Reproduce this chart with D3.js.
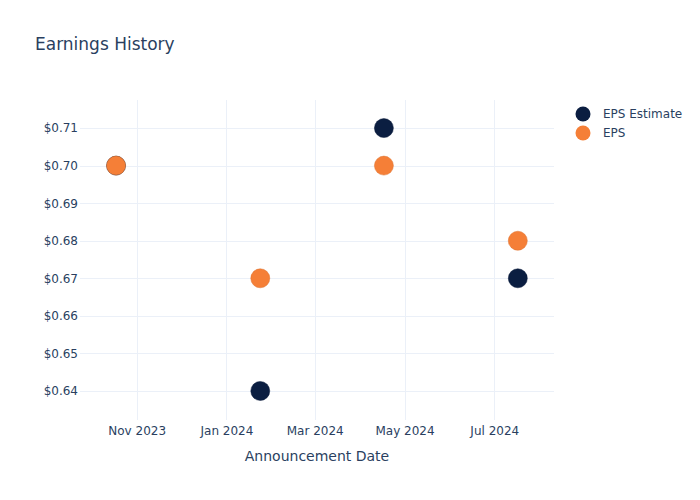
<!DOCTYPE html>
<html>
<head>
<meta charset="utf-8">
<script src="https://cdn.jsdelivr.net/npm/d3@7"></script>
<style>
  html, body { margin: 0; padding: 0; background: #fff; }
  svg { display: block; font-family: "DejaVu Sans", Verdana, sans-serif; }
</style>
</head>
<body>
<svg id="chart" width="700" height="500"></svg>
<script>
// ---- data ----
const dates = ["2023-10-18", "2024-01-24", "2024-04-17", "2024-07-17"];
const epsEstimate = [0.70, 0.64, 0.71, 0.67];
const eps = [0.70, 0.67, 0.70, 0.68];
const seriesNames = ["EPS Estimate", "EPS"];
const seriesColors = ["#0b1e41", "#f57f37"];
const yTickValues = [0.64, 0.65, 0.66, 0.67, 0.68, 0.69, 0.70, 0.71];
const xTickDates = ["2023-11-01", "2024-01-01", "2024-03-01", "2024-05-01", "2024-07-01"];
const xRange = ["2023-09-23T12:00", "2024-08-10T14:00"];
const yRange = [0.63227, 0.71747];

// ---- layout ----
const W = 700, H = 500;
const m = { l: 80, r: 146, t: 100, b: 80 };
const pw = W - m.l - m.r, ph = H - m.t - m.b;
const textColor = "#2a3f5f";
const gridColor = "#ebf0f8";

const parse = d3.isoParse;
const svg = d3.select("#chart");

const x = d3.scaleTime().domain(xRange.map(parse)).range([m.l, m.l + pw]);
const y = d3.scaleLinear().domain(yRange).range([m.t + ph, m.t]);

// title
svg.append("text").attr("x", 35).attr("y", 50)
  .attr("fill", textColor).attr("font-size", 17).text("Earnings History");

// grid
const g = svg.append("g");
g.selectAll(".vg").data(xTickDates.map(parse)).join("line")
  .attr("x1", d => Math.round(x(d)) + 0.5).attr("x2", d => Math.round(x(d)) + 0.5)
  .attr("y1", m.t).attr("y2", m.t + ph)
  .attr("stroke", gridColor).attr("stroke-width", 1);
g.selectAll(".hg").data(yTickValues).join("line")
  .attr("x1", m.l).attr("x2", m.l + pw)
  .attr("y1", d => Math.round(y(d)) + 0.5).attr("y2", d => Math.round(y(d)) + 0.5)
  .attr("stroke", gridColor).attr("stroke-width", 1);

// axes
const yAxis = d3.axisLeft(y).tickValues(yTickValues).tickFormat(d3.format("$.2f")).tickSize(0).tickPadding(2);
const ya = svg.append("g").attr("transform", `translate(${m.l},0)`).call(yAxis);
ya.select(".domain").remove();
ya.selectAll("text").attr("fill", textColor).attr("font-size", 12)
  .attr("font-family", "'DejaVu Sans', Verdana, sans-serif");

const xAxis = d3.axisBottom(x).tickValues(xTickDates.map(parse)).tickFormat(d3.timeFormat("%b %Y")).tickSize(0).tickPadding(6);
const xa = svg.append("g").attr("transform", `translate(0,${m.t + ph})`).call(xAxis);
xa.select(".domain").remove();
xa.selectAll("text").attr("fill", textColor).attr("font-size", 12)
  .attr("font-family", "'DejaVu Sans', Verdana, sans-serif");

// axis title
svg.append("text").attr("x", m.l + pw / 2).attr("y", 461).attr("text-anchor", "middle")
  .attr("fill", textColor).attr("font-size", 14).text("Announcement Date");

// points
const series = [epsEstimate, eps];
series.forEach((vals, si) => {
  svg.append("g").selectAll("circle").data(vals).join("circle")
    .attr("cx", (d, i) => x(parse(dates[i])))
    .attr("cy", d => y(d))
    .attr("r", 9.5)
    .attr("fill", seriesColors[si])
    .attr("stroke", d3.color(seriesColors[si]).darker(0.3))
    .attr("stroke-width", 0.5);
});

// legend
const lg = svg.append("g");
seriesNames.forEach((name, i) => {
  const yy = 114 + i * 19;
  lg.append("circle").attr("cx", 583).attr("cy", yy).attr("r", 7.5).attr("fill", seriesColors[i]);
  lg.append("text").attr("x", 603).attr("y", yy).attr("dy", "0.35em")
    .attr("fill", textColor).attr("font-size", 12).text(name);
});
</script>
</body>
</html>
